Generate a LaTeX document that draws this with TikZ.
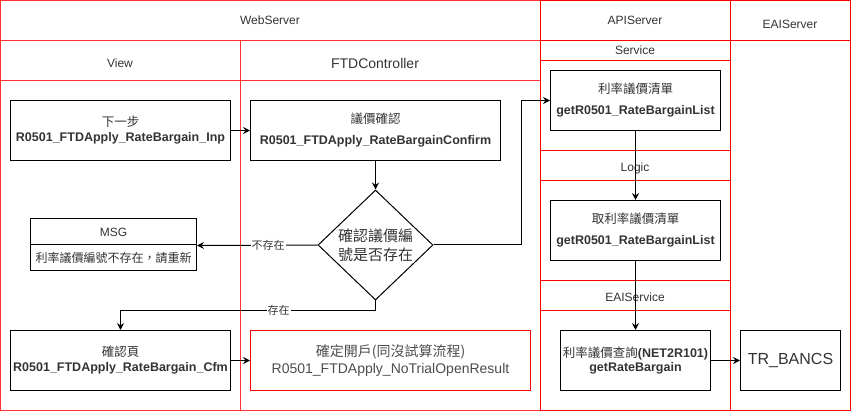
\documentclass[tikz,border=0pt]{standalone}
\usepackage{fontspec}
\setmainfont{Liberation Sans}
\newfontfamily\cjk{Noto Sans CJK TC}
\usetikzlibrary{shapes.geometric,arrows.meta}
\definecolor{lanered}{HTML}{FF0000}
\definecolor{webred}{HTML}{FF3333}
\definecolor{txtgray}{HTML}{333333}
\newcommand{\fsz}[2]{\fontsize{#1}{#2}\selectfont}
\begin{document}
\begin{tikzpicture}[x=1pt,y=-1pt,>={Stealth[length=7pt,width=7pt,inset=2.5pt]},
    proc/.style={draw,line width=1pt,minimum width=#1,minimum height=60,inner sep=0pt,align=center,text=txtgray,font=\fsz{12.5}{21}},
    title/.style={text=txtgray,inner sep=0pt,font=\fsz{12}{14}},
    lbl/.style={fill=white,inner sep=1pt,text=txtgray,font=\fsz{11}{11}\cjk},
    flow/.style={->,line width=1pt}]
    \useasboundingbox (0,0) rectangle (851,411);
    % lanes
    \draw[webred,line width=1pt] (0.5,0.5) rectangle (540.5,410.5);
    \draw[webred,line width=1pt] (0.5,40.5)--(540.5,40.5) (0.5,80.5)--(540.5,80.5) (240.5,40.5)--(240.5,410.5);
    \draw[lanered,line width=1pt] (540.5,0.5) rectangle (730.5,410.5);
    \draw[lanered,line width=1pt] (730.5,0.5) rectangle (850.5,410.5);
    \draw[lanered,line width=1pt] (540.5,40.5)--(850.5,40.5);
    \draw[lanered,line width=1pt] (540.5,60.5)--(730.5,60.5) (540.5,150.5)--(730.5,150.5) (540.5,180.5)--(730.5,180.5);
    \draw[lanered,line width=1pt] (540.5,280.5)--(730.5,280.5) (540.5,311)--(730.5,311);
    \node[title] (web) at (270,20) {WebServer};
    \node[title] (api) at (635,20) {APIServer};
    \node[title] (eais) at (790,24) {EAIServer};
    \node[title] (view) at (120,63) {View};
    \node[title,font=\fsz{14}{16}] (ctl) at (375,63) {FTDController};
    \node[title] (svc) at (635,50) {Service};
    \node[title] (lgc) at (635,168) {Logic};
    \node[title] (eaisvc) at (635,297) {EAIService};

    % boxes
    \node[proc=220,font=\fsz{12.5}{15}] (next) at (120.5,130.5) {{\cjk 下一步}\\\textbf{R0501\_FTDApply\_RateBargain\_Inp}};
    \node[proc=250] (confirm) at (375.5,130.5) {{\cjk 議價確認}\\\textbf{R0501\_FTDApply\_RateBargainConfirm}};
    \node[diamond,draw,line width=1pt,minimum width=115,minimum height=110,aspect=1.05,inner sep=0pt,align=center,text=txtgray,font=\fsz{15}{19}\cjk] (chk) at (375.5,245) {確認議價編\\號是否存在};
    \node[proc=170] (list) at (635.5,100.5) {{\cjk 利率議價清單}\\\textbf{getR0501\_RateBargainList}};
    \node[proc=170] (getlist) at (635.5,230.5) {{\cjk 取利率議價清單}\\\textbf{getR0501\_RateBargainList}};
    \node[proc=150,font=\fsz{12.5}{14}] (query) at (635.5,360.5) {{\cjk 利率議價查詢}\textbf{(NET2R101)}\\\textbf{getRateBargain}};
    \node[proc=100,font=\fsz{16}{18}] (bancs) at (790.5,360.5) {TR\_BANCS};
    \node[draw,line width=1pt,minimum width=166,minimum height=26,inner sep=0pt,text=txtgray,font=\fsz{12}{14}] (msg) at (113.5,232) {MSG};
    \node[draw,line width=1pt,minimum width=166,minimum height=26,inner sep=0pt,text=txtgray,font=\fsz{12}{14}\cjk] (msgtxt) at (113.5,258) {利率議價編號不存在，請重新};
    \node[proc=220,font=\fsz{12.5}{15}] (cfm) at (120.5,360.5) {{\cjk 確認頁}\\\textbf{R0501\_FTDApply\_RateBargain\_Cfm}};
    \node[proc=280,draw=red,text=black!70,font=\fsz{14}{17}] (open) at (390.5,360.5) {{\cjk 確定開戶(同沒試算流程)}\\R0501\_FTDApply\_NoTrialOpenResult};

    % flow
    \draw[flow] (next) -- (confirm);
    \draw[flow] (confirm) -- (chk);
    \draw[flow] (chk.east) -- ++(88,0) |- (list.west);
    \draw[flow] (list) -- (getlist);
    \draw[flow] (getlist) -- (query);
    \draw[flow] (query) -- (bancs);
    \draw[flow] (chk.west) -- node[lbl,pos=0.41]{不存在} (msg.south east);
    \draw[flow] (chk.south) -- ++(0,10) -| node[lbl,pos=0.19]{存在} (cfm.north);
    \draw[flow] (cfm) -- (open);
\end{tikzpicture}
\end{document}
